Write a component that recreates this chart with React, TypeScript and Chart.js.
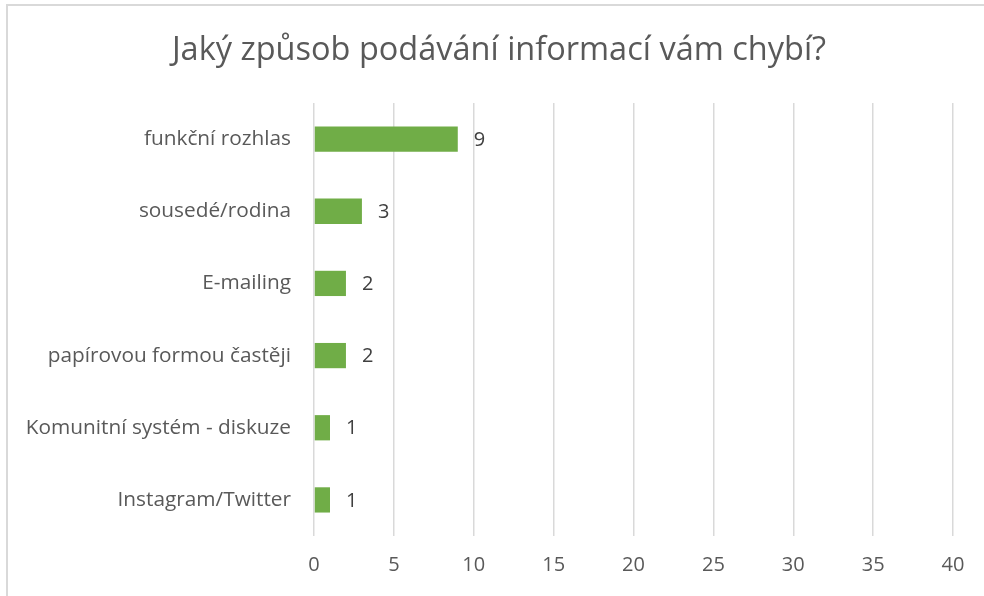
import React, { useEffect, useRef } from "react";
import { Chart, registerables } from "chart.js";

Chart.register(...registerables);

const categories = [
  "funkční rozhlas",
  "sousedé/rodina",
  "E-mailing",
  "papírovou formou častěji",
  "Komunitní systém - diskuze",
  "Instagram/Twitter",
];
const values = [9, 3, 2, 2, 1, 1];
const titleText = "Jaký způsob podávání informací vám chybí?";
const xMin = 0;
const xMax = 40;
const xStep = 5;

const FONT = "'Open Sans', sans-serif";

const valueLabels = {
  id: "valueLabels",
  afterDatasetsDraw(chart: any) {
    const ctx = chart.ctx;
    const meta = chart.getDatasetMeta(0);
    ctx.save();
    ctx.fillStyle = "#404040";
    ctx.font = `20px ${FONT}`;
    ctx.textAlign = "left";
    ctx.textBaseline = "middle";
    meta.data.forEach((bar: any, i: number) => {
      ctx.fillText(String(chart.data.datasets[0].data[i]), bar.x + 16, bar.y + 1);
    });
    ctx.restore();
  },
};

const centeredTitle = {
  id: "centeredTitle",
  afterDraw(chart: any) {
    const ctx = chart.ctx;
    ctx.save();
    ctx.fillStyle = "#595959";
    ctx.font = `32.5px ${FONT}`;
    ctx.textAlign = "center";
    ctx.textBaseline = "middle";
    ctx.fillText(titleText, chart.width / 2 + 7, 50.5);
    ctx.restore();
  },
};

export default function App() {
  const ref = useRef<HTMLCanvasElement | null>(null);
  useEffect(() => {
    document.body.style.margin = "0";
    const chart = new Chart(ref.current!, {
      type: "bar",
      data: {
        labels: categories,
        datasets: [
          {
            data: values,
            backgroundColor: "#70ad47",
            borderWidth: 0,
            barPercentage: 0.35,
            categoryPercentage: 1,
          },
        ],
      },
      options: {
        indexAxis: "y",
        animation: false,
        responsive: false,
        maintainAspectRatio: false,
        layout: { padding: { left: 0, right: 31, top: 103, bottom: 0 } },
        plugins: {
          legend: { display: false },
          tooltip: { enabled: false },
          title: { display: false },
        },
        scales: {
          x: {
            min: xMin,
            max: xMax,
            ticks: {
              stepSize: xStep,
              color: "#595959",
              font: { family: FONT, size: 20 },
              padding: 17,
            },
            grid: { color: "#d9d9d9", lineWidth: 1.5, drawTicks: false },
            border: { display: false },
            afterFit: (s: any) => {
              s.height = 60;
            },
          },
          y: {
            ticks: {
              color: "#595959",
              font: { family: FONT, size: 20.8 },
              padding: 23,
            },
            grid: { display: false, drawTicks: false },
            border: { display: false },
            afterFit: (s: any) => {
              s.width = 314;
            },
          },
        },
      },
      plugins: [valueLabels, centeredTitle],
    });
    return () => chart.destroy();
  }, []);
  return (
    <div style={{ position: "relative", width: 984, height: 596, overflow: "hidden", background: "#fff" }}>
      <div
        style={{
          position: "absolute",
          left: 6,
          top: 4,
          width: 1000,
          height: 1000,
          borderTop: "2px solid #d9d9d9",
          borderLeft: "2px solid #d9d9d9",
        }}
      />
      <canvas ref={ref} width={984} height={596} style={{ position: "absolute", left: 0, top: 0 }} />
    </div>
  );
}
